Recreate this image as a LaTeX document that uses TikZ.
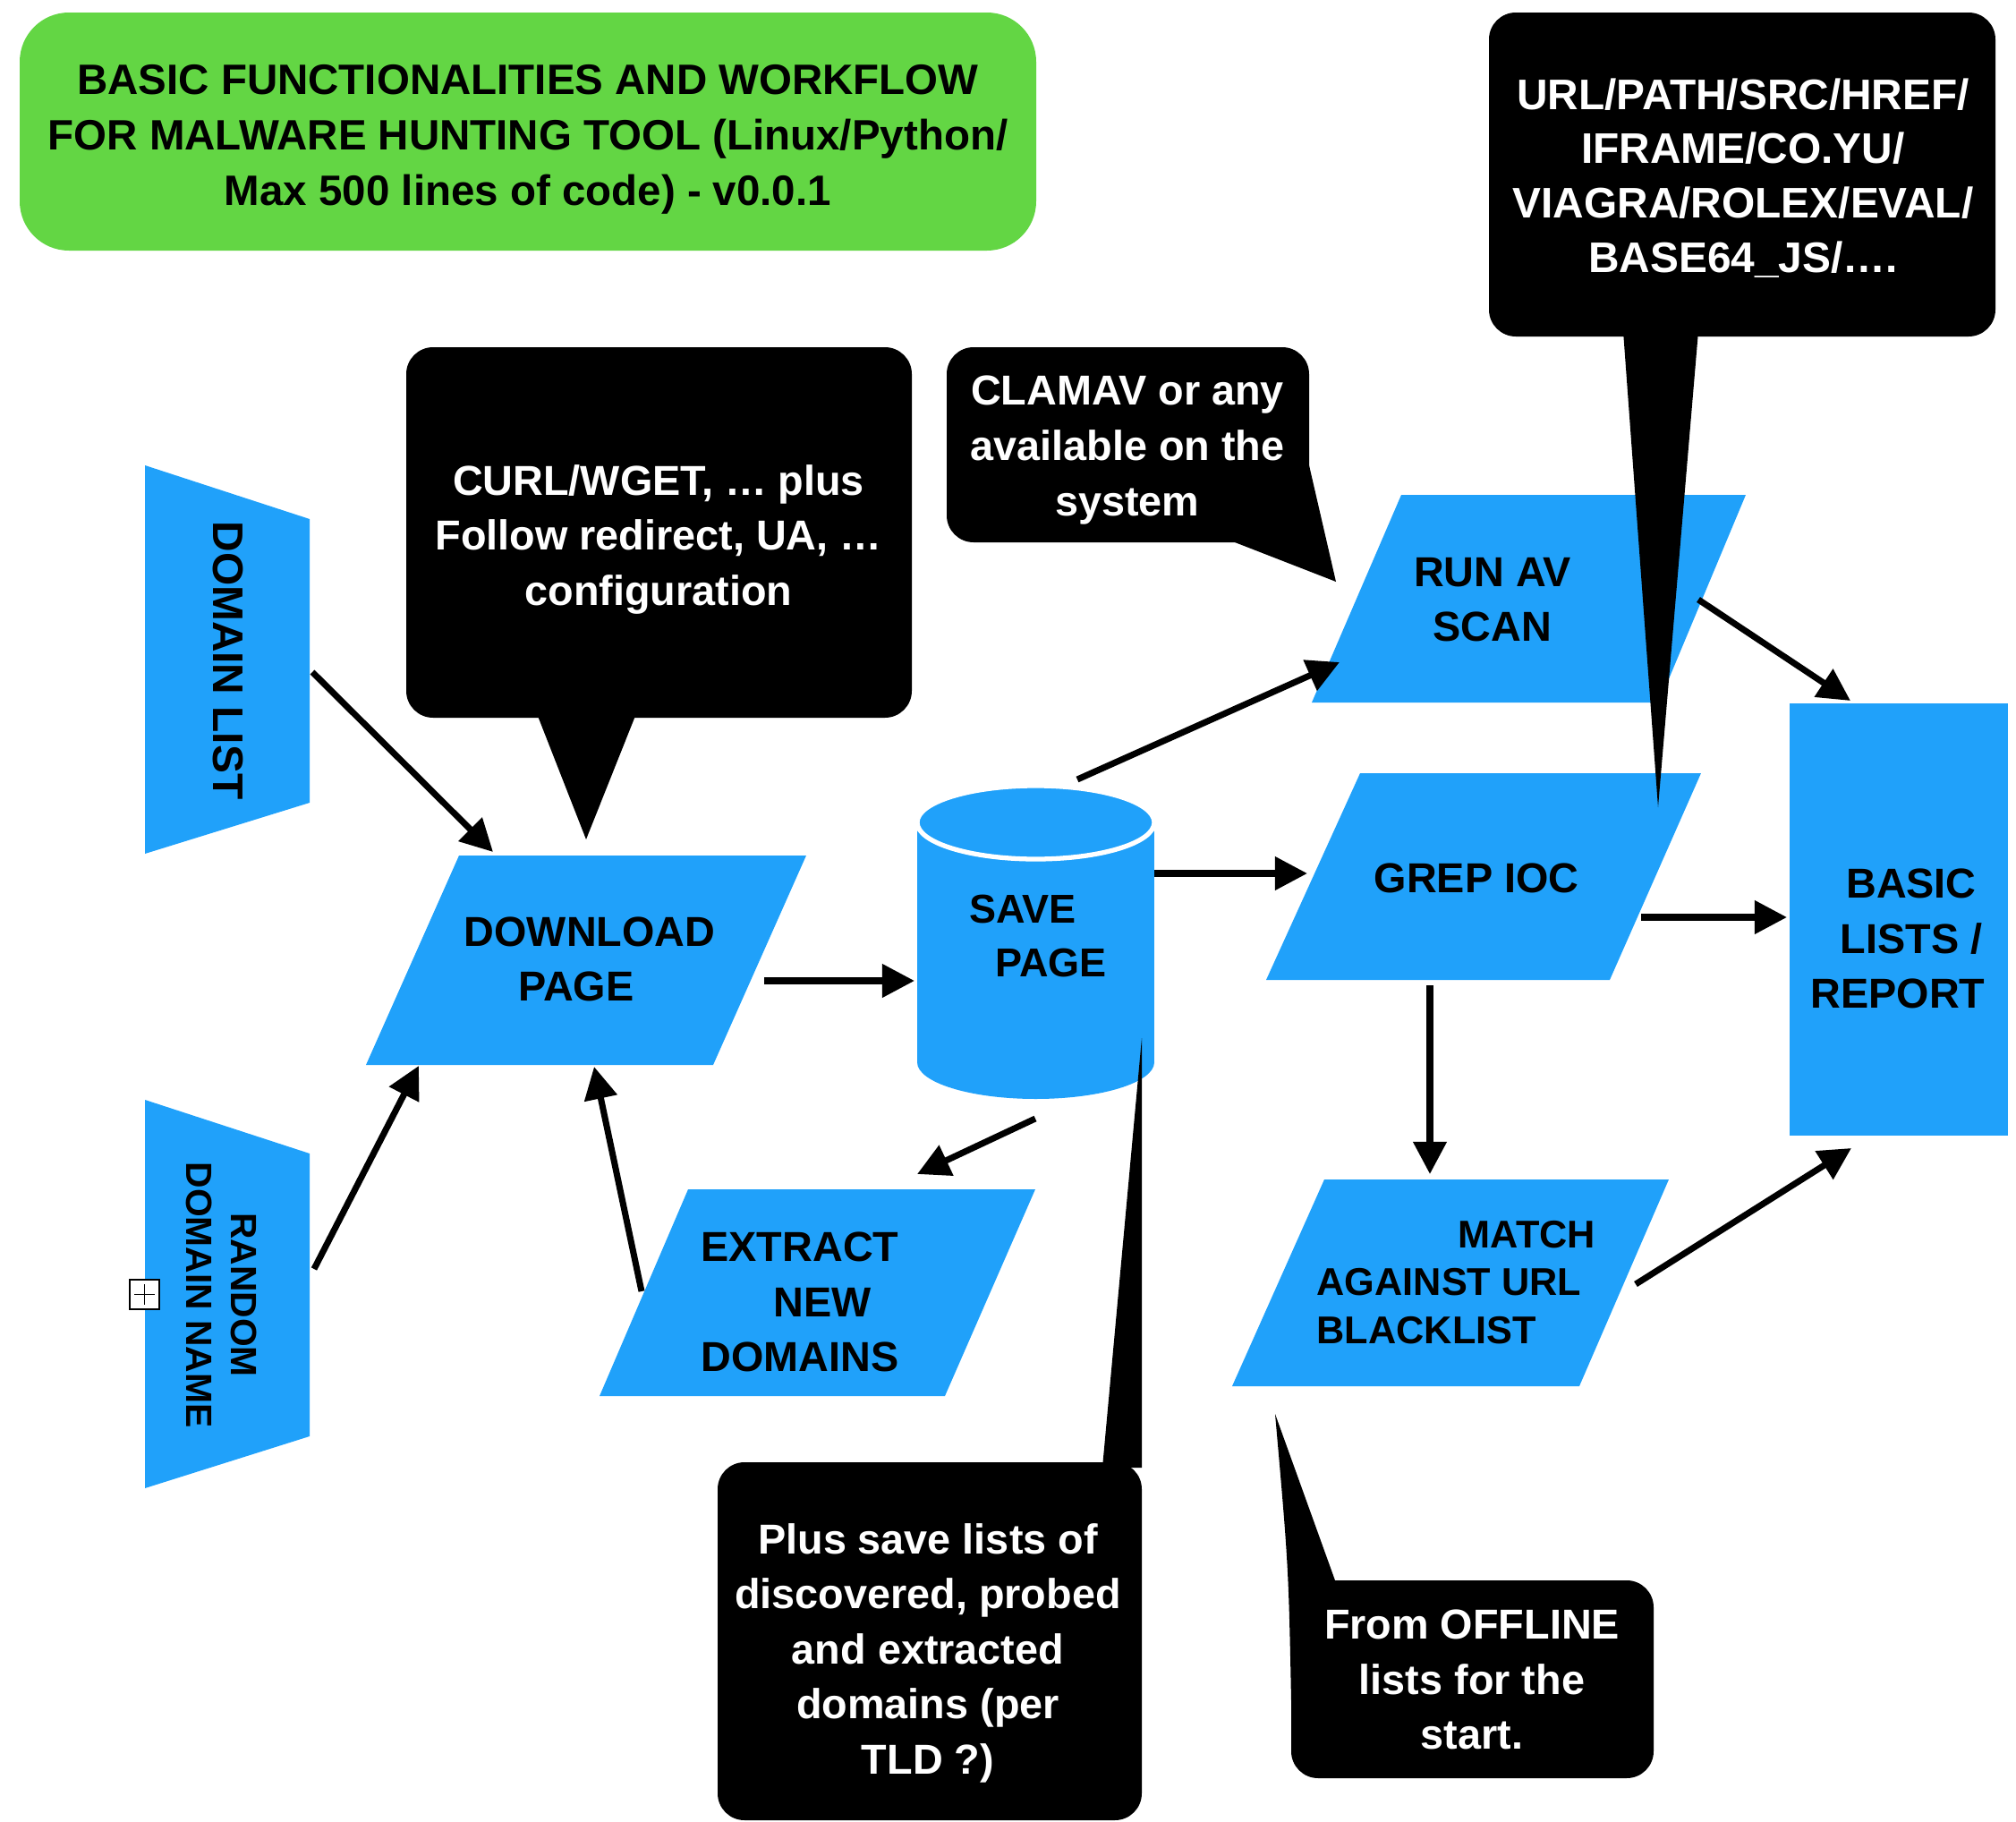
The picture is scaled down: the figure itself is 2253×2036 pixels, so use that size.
\documentclass[tikz,border=0pt]{standalone}
\usepackage{fontspec}
\setmainfont{Liberation Sans}
\usetikzlibrary{arrows.meta}
\definecolor{ioblue}{RGB}{32,161,250}
\definecolor{titlegreen}{RGB}{99,214,68}
\begin{document}
\begin{tikzpicture}[x=0.01cm,y=-0.01cm,
  flow/.style={fill=ioblue},
  bubble/.style={fill=black},
  lbl/.style={font=\bfseries\fontsize{13.3}{17.5}\selectfont, align=center, inner sep=0pt, text=black},
  wlbl/.style={lbl, text=white},
  arr/.style={line width=2pt, -{Triangle[length=0.36cm,width=0.36cm]}},
]
\useasboundingbox (0,0) rectangle (2253,2036);

% ---------- title ----------
\fill[titlegreen, rounded corners=0.55cm] (22,14) rectangle (1158,280);
\node[lbl, font=\bfseries\fontsize{13.5}{17.6}\selectfont] (title) at (590,156)
  {BASIC FUNCTIONALITIES AND WORKFLOW\\FOR MALWARE HUNTING TOOL (Linux/Python/\\Max 500 lines of code) - v0.0.1};

% ---------- flow shapes ----------
% domain list
\fill[flow] (162,520) -- (346,580) -- (346,897) -- (162,954) -- cycle;
\node[lbl, font=\bfseries\fontsize{13.6}{17}\selectfont, rotate=-90] (domlist) at (255,738) {DOMAIN LIST};
% random domain name
\fill[flow] (162,1229) -- (346,1289) -- (346,1605) -- (162,1663) -- cycle;
\node[lbl, font=\bfseries\fontsize{11.6}{14.2}\selectfont, rotate=-90] (random) at (248,1447) {RANDOM\\DOMAIN NAME};
\draw[line width=0.45pt, fill=white] (145,1430) rectangle (178,1463);
\draw[line width=0.45pt] (150,1446.5) -- (173,1446.5) (161.5,1435) -- (161.5,1458);
% download page
\fill[flow] (513,956) -- (901,956) -- (797,1190) -- (409,1190) -- cycle;
\node[lbl] (download) at (659,1072) {DOWNLOAD\\PAGE\hspace*{0.3cm}};
% save page (cylinder)
\fill[flow] (1025,919) rectangle (1290,1187);
\fill[flow] (1157.5,1187) ellipse [x radius=132.5, y radius=41];
\filldraw[fill=ioblue, draw=white, line width=1.5pt] (1157.5,919) ellipse [x radius=132.5, y radius=41];
\node[lbl, font=\bfseries\fontsize{12.8}{17}\selectfont, align=left, anchor=west] (save) at (1083,1046) {SAVE\\\hspace*{0.29cm}PAGE};
% run av scan
\fill[flow] (1566,553) -- (1951,553) -- (1854,785) -- (1466,785) -- cycle;
\node[lbl] (runav) at (1668,670) {RUN AV\\SCAN};
% grep ioc
\fill[flow] (1520,864) -- (1901,864) -- (1799,1095) -- (1415,1095) -- cycle;
\node[lbl] (grep) at (1650,981) {GREP IOC};
% basic lists / report
\fill[flow] (2000,786) rectangle (2244,1269);
\node[lbl] (report) at (2121,1049) {\hspace*{0.3cm}BASIC\\\hspace*{0.3cm}LISTS /\\REPORT};
% extract new domains
\fill[flow] (769,1329) -- (1157,1329) -- (1056,1560) -- (670,1560) -- cycle;
\node[lbl] (extract) at (894,1455) {EXTRACT\\\hspace*{0.5cm}NEW\\DOMAINS};
% match against url blacklist
\fill[flow] (1480,1318) -- (1865,1318) -- (1765,1549) -- (1377,1549) -- cycle;
\node[lbl, font=\bfseries\fontsize{12.3}{15.3}\selectfont, align=left, anchor=west] (match) at (1471,1433)
  {\makebox[3.11cm][r]{MATCH}\\AGAINST URL\\BLACKLIST};

% ---------- connector end points ----------
\coordinate (dl-o) at (349,751);   \coordinate (dp-i1) at (551,952);
\coordinate (rd-o) at (351,1418);  \coordinate (dp-i2) at (468,1191);
\coordinate (ex-o) at (717,1443);  \coordinate (dp-i3) at (664,1192);
\coordinate (dp-o) at (854,1096);  \coordinate (sp-i) at (1022,1096);
\coordinate (sp-o1) at (1157,1250); \coordinate (ex-i) at (1025,1312);
\coordinate (sp-o2) at (1204,871); \coordinate (av-i) at (1497,740);
\coordinate (sp-o3) at (1290,976); \coordinate (gr-i) at (1461,976);
\coordinate (av-o) at (1898,670);  \coordinate (rp-i1) at (2068,783);
\coordinate (gr-o1) at (1834,1025); \coordinate (rp-i2) at (1997,1025);
\coordinate (gr-o2) at (1598,1101); \coordinate (ma-i) at (1598,1312);
\coordinate (ma-o) at (1828,1435); \coordinate (rp-i3) at (2069,1283);

\draw[arr] (dl-o) -- (dp-i1);
\draw[arr] (rd-o) -- (dp-i2);
\draw[arr] (ex-o) -- (dp-i3);
\draw[arr] (dp-o) -- (sp-i);
\draw[arr] (sp-o1) -- (ex-i);
\draw[arr] (sp-o2) -- (av-i);
\draw[arr] (sp-o3) -- (gr-i);
\draw[arr] (av-o) -- (rp-i1);
\draw[arr] (gr-o1) -- (rp-i2);
\draw[arr] (gr-o2) -- (ma-i);
\draw[arr] (ma-o) -- (rp-i3);

% ---------- callouts ----------
% URL
\fill[bubble, rounded corners=0.3cm] (1664,14) rectangle (2230,376);
\fill[bubble] (1814,370) -- (1898,370) -- (1853,902) -- cycle;
\node[wlbl, font=\bfseries\fontsize{13.6}{17.3}\selectfont] (iocnote) at (1948,199)
  {URL/PATH/SRC/HREF/\\IFRAME/CO.YU/\\VIAGRA/ROLEX/EVAL/\\BASE64\_JS/….};
% CURL
\fill[bubble, rounded corners=0.3cm] (454,388) rectangle (1019,802);
\fill[bubble] (599,795) -- (712,795) -- (655,938) -- cycle;
\node[wlbl] (curlnote) at (736,603) {CURL/WGET, … plus\\Follow redirect, UA, …\\configuration};
% CLAMAV
\fill[bubble, rounded corners=0.3cm] (1058,388) rectangle (1463,606);
\fill[bubble] (1380,606) -- (1493,650) -- (1463,520) -- (1380,520) -- cycle;
\node[wlbl] (avnote) at (1260,503) {CLAMAV or any\\available on the\\system};
% Plus save
\fill[bubble, rounded corners=0.3cm] (802,1634) rectangle (1276,2034);
\fill[bubble] (1232,1640) -- (1276,1160) -- (1276,1640) -- cycle;
\node[wlbl] (savenote) at (1037,1847) {Plus save lists of\\discovered, probed\\and extracted\\domains (per\\TLD ?)};
% From OFFLINE
\fill[bubble, rounded corners=0.3cm] (1443,1766) rectangle (1848,1987);
\fill[bubble] (1425,1580) -- (1492,1766) -- (1500,1766) -- (1500,1850) -- (1443,1900) .. controls (1440,1750) .. (1425,1580) -- cycle;
\node[wlbl] (offnote) at (1645,1877) {From OFFLINE\\lists for the\\start.};
\end{tikzpicture}
\end{document}
